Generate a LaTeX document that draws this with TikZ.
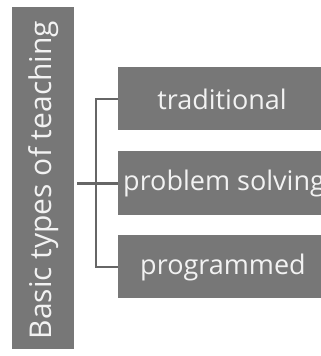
\documentclass[tikz,border=0pt]{standalone}
\usepackage{fontspec}
\setmainfont{Open Sans}
\definecolor{boxgray}{HTML}{777777}
\definecolor{linegray}{HTML}{666666}
\definecolor{txt}{HTML}{F2F2F2}
\begin{document}
\begin{tikzpicture}[x=1pt,y=-1pt,
  box/.style={fill=boxgray,draw=none,text=txt,inner sep=0pt},
  lbl/.style={text=txt,font=\fontsize{27}{30}\selectfont,inner sep=0pt},
  conn/.style={draw=linegray,line width=2pt}]
\useasboundingbox (0,0) rectangle (321,356);
\begin{scope}
\clip (0,0) rectangle (321,356);
\node[box,minimum width=62pt,minimum height=342pt] (rootb) at (43,178) {};
\node[lbl,rotate=90,font=\fontsize{30}{34}\selectfont] (roottext) at (44,180) {Basic types of teaching};
\node[box,anchor=north west,minimum width=210pt,minimum height=63pt] (t) at (118,67) {};
\node[box,anchor=north west,minimum width=210pt,minimum height=64pt] (p) at (118,151) {};
\node[box,anchor=north west,minimum width=210pt,minimum height=63pt] (g) at (118,235) {};
\node[lbl] (tt) at (222,99) {traditional};
\node[lbl,anchor=west] (pt) at (123,183) {problem solving};
\node[lbl] (gt) at (223,267) {programmed};
\end{scope}
\coordinate (j) at (96,183);
\draw[conn,line width=3pt] ([xshift=3pt]rootb.east |- p.west) -- (p.west);
\draw[conn] (t.west) -| (j) |- (g.west);
\end{tikzpicture}
\end{document}
